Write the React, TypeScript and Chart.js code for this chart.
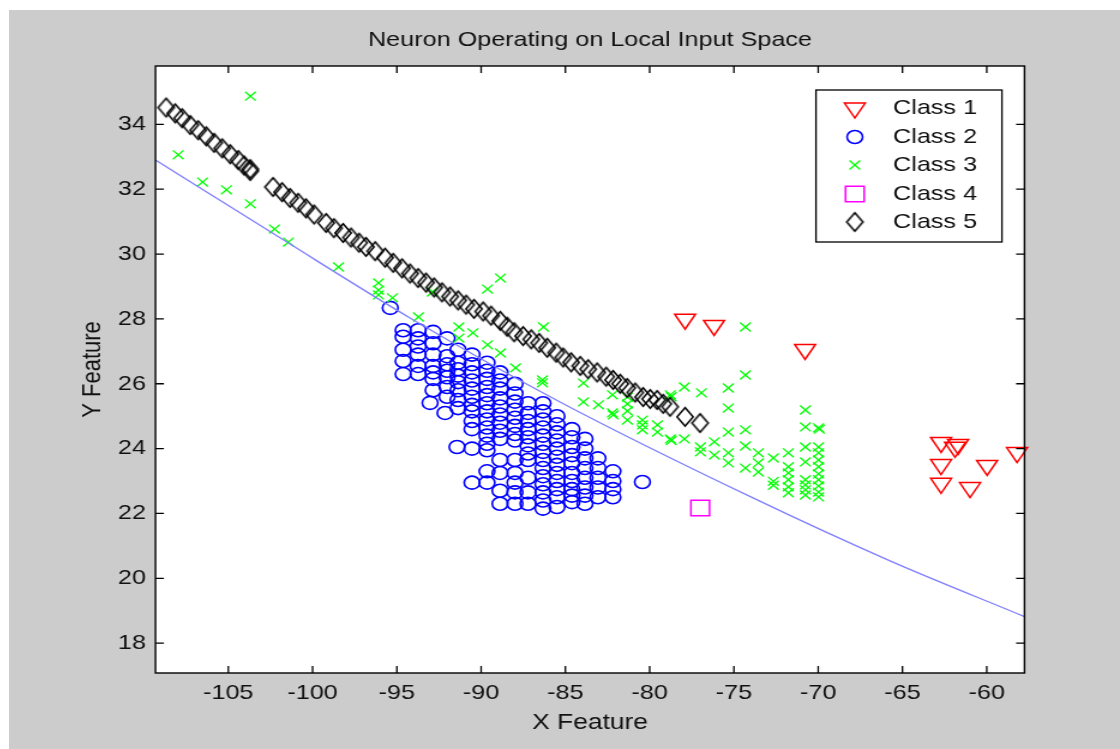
import React, { useEffect, useRef } from 'react';
import { Chart, registerables } from 'chart.js';

Chart.register(...registerables);

const TITLE = 'Neuron Operating on Local Input Space';
const X_TITLE = 'X Feature';
const Y_TITLE = 'Y Feature';
const X_RANGE = [-109.32, -57.76];
const Y_RANGE = [17.08, 35.8];
const X_TICKS = [-105, -100, -95, -90, -85, -80, -75, -70, -65, -60];
const Y_TICKS = [18, 20, 22, 24, 26, 28, 30, 32, 34];
const LEGEND_LABELS = ['Class 1', 'Class 2', 'Class 3', 'Class 4', 'Class 5'];

const class1Points = [
  [-77.9, 27.99], [-76.18, 27.8], [-70.78, 27.06], [-62.71, 24.19], [-61.88, 24.04],
  [-61.7, 24.13], [-62.71, 23.51], [-62.71, 22.93], [-59.98, 23.48], [-60.99, 22.8], [-58.2, 23.88],
];

const class2Points = [
  [-95.39, 28.34],
  [-94.63, 27.65], [-94.63, 27.45], [-94.63, 27.05], [-94.63, 26.7], [-94.63, 26.3],
  [-93.74, 27.65], [-93.74, 27.4], [-93.74, 27.15], [-93.74, 26.9], [-93.74, 26.55], [-93.74, 26.3],
  [-92.85, 27.6], [-92.85, 27.25], [-92.85, 26.9], [-92.85, 26.55], [-92.85, 26.35], [-92.85, 26.15], [-92.85, 25.8],
  [-93.03, 25.41],
  [-92.02, 27.4], [-92.02, 26.85], [-92.02, 26.6], [-92.02, 26.4], [-92.02, 26.2], [-92.02, 25.9], [-92.02, 25.6],
  [-92.14, 25.1],
  [-91.37, 27.05], [-91.37, 26.65], [-91.37, 26.45], [-91.37, 26.25], [-91.37, 26.05], [-91.37, 25.8], [-91.37, 25.5], [-91.37, 25.25], [-91.43, 24.05],
  [-90.54, 26.9], [-90.54, 26.6], [-90.54, 26.35], [-90.54, 26.1], [-90.54, 25.85], [-90.54, 25.6], [-90.54, 25.35], [-90.54, 25.15], [-90.54, 24.85], [-90.54, 24.6], [-90.54, 24.0], [-90.54, 22.95],
  [-89.65, 26.65], [-89.65, 26.4], [-89.65, 26.15], [-89.65, 25.9], [-89.65, 25.65], [-89.65, 25.4], [-89.65, 25.15], [-89.65, 24.9], [-89.65, 24.65], [-89.65, 24.4], [-89.65, 24.15], [-89.65, 23.95], [-89.65, 23.3], [-89.65, 22.95],
  [-88.88, 26.35], [-88.88, 26.1], [-88.88, 25.85], [-88.88, 25.55], [-88.88, 25.3], [-88.88, 25.05], [-88.88, 24.8], [-88.88, 24.55], [-88.88, 24.3], [-88.88, 23.65], [-88.88, 23.25], [-88.88, 22.7], [-88.88, 22.3],
  [-87.99, 26.0], [-87.99, 25.7], [-87.99, 25.45], [-87.99, 25.2], [-87.99, 24.95], [-87.99, 24.7], [-87.99, 24.45], [-87.99, 24.25], [-87.99, 23.65], [-87.99, 23.25], [-87.99, 22.95], [-87.99, 22.65], [-87.99, 22.3],
  [-87.22, 25.4], [-87.22, 25.1], [-87.22, 24.85], [-87.22, 24.6], [-87.22, 24.35], [-87.22, 24.1], [-87.22, 23.85], [-87.22, 23.65], [-87.22, 23.1], [-87.22, 22.65], [-87.22, 22.3],
  [-86.33, 25.4], [-86.33, 25.15], [-86.33, 24.9], [-86.33, 24.65], [-86.33, 24.4], [-86.33, 24.15], [-86.33, 23.9], [-86.33, 23.65], [-86.33, 23.4], [-86.33, 23.15], [-86.33, 22.9], [-86.33, 22.65], [-86.33, 22.4], [-86.33, 22.15],
  [-85.5, 25.0], [-85.5, 24.75], [-85.5, 24.5], [-85.5, 24.25], [-85.5, 24.0], [-85.5, 23.75], [-85.5, 23.5], [-85.5, 23.25], [-85.5, 23.0], [-85.5, 22.75], [-85.5, 22.5], [-85.5, 22.2],
  [-84.61, 24.6], [-84.61, 24.35], [-84.61, 24.05], [-84.61, 23.8], [-84.61, 23.55], [-84.61, 23.25], [-84.61, 23.0], [-84.61, 22.75], [-84.61, 22.55], [-84.61, 22.35],
  [-83.84, 24.3], [-83.84, 24.0], [-83.84, 23.7], [-83.84, 23.4], [-83.84, 23.1], [-83.84, 22.8], [-83.84, 22.55], [-83.84, 22.3],
  [-83.07, 23.7], [-83.07, 23.4], [-83.07, 23.1], [-83.07, 22.8], [-83.07, 22.5],
  [-82.18, 23.3], [-82.18, 23.0], [-82.18, 22.75], [-82.18, 22.5],
  [-80.43, 22.97],
];

const class3Points = [
  [-103.69, 34.87], [-107.97, 33.06], [-106.53, 32.22], [-105.11, 31.98], [-103.69, 31.55],
  [-102.26, 30.77], [-101.43, 30.37], [-98.46, 29.6], [-96.09, 29.11], [-96.09, 28.89],
  [-96.09, 28.74], [-95.26, 28.65], [-93.72, 28.06], [-92.89, 28.83], [-89.62, 28.92], [-88.85, 29.26],
  [-91.32, 27.75], [-90.49, 27.57], [-91.32, 27.41], [-89.62, 27.2], [-88.85, 26.95], [-87.96, 26.49],
  [-86.3, 27.75], [-86.36, 26.12], [-86.36, 26.03],
  [-83.93, 26.02], [-83.93, 25.44], [-83.04, 25.35], [-82.21, 25.66], [-82.21, 25.1], [-82.16, 25.04],
  [-81.32, 25.59], [-81.32, 25.38], [-81.32, 25.16], [-81.32, 24.88], [-80.43, 24.88], [-80.43, 24.73],
  [-80.43, 24.58], [-79.54, 24.73], [-79.54, 24.51], [-78.77, 25.66], [-78.72, 25.6], [-78.77, 24.3],
  [-78.72, 24.25], [-77.94, 25.9], [-77.94, 24.3], [-76.93, 25.72], [-76.99, 24.05], [-76.99, 23.9],
  [-76.16, 24.21], [-76.16, 23.8], [-75.33, 25.87], [-75.33, 25.25], [-75.33, 24.51], [-75.33, 23.87],
  [-75.33, 23.56], [-74.32, 27.75], [-74.32, 26.27], [-74.32, 24.58], [-74.32, 24.08], [-74.32, 23.4],
  [-73.55, 23.87], [-73.55, 23.56], [-73.55, 23.28], [-72.66, 23.71], [-72.66, 22.99], [-72.66, 22.87],
  [-71.77, 23.87], [-71.77, 23.44], [-71.77, 23.25], [-71.77, 23.04], [-71.77, 22.82], [-71.77, 22.64],
  [-70.76, 25.19], [-70.76, 24.67], [-70.76, 24.05], [-70.76, 23.59], [-70.76, 23.04], [-70.76, 22.88],
  [-70.76, 22.73], [-70.76, 22.57], [-69.98, 24.64], [-69.93, 24.6], [-69.98, 24.05], [-69.98, 23.87],
  [-69.98, 23.65], [-69.98, 23.44], [-69.98, 23.22], [-69.98, 23.04], [-69.98, 22.85], [-69.98, 22.66],
  [-69.98, 22.51],
];

const class4Points = [[-77.0, 22.17]];

const class5Points = [
  [-108.69, 34.52], [-108.15, 34.34], [-107.74, 34.19], [-107.26, 33.98], [-106.79, 33.82], [-106.31, 33.63],
  [-105.84, 33.43], [-105.36, 33.26], [-104.89, 33.08], [-104.41, 32.9], [-104.06, 32.73], [-103.7, 32.62],
  [-103.7, 32.56],
  [-102.35, 32.07], [-101.81, 31.91], [-101.34, 31.73], [-100.86, 31.58], [-100.39, 31.41], [-99.91, 31.22],
  [-99.2, 30.96], [-98.73, 30.8], [-98.19, 30.65], [-97.72, 30.51], [-97.24, 30.35], [-96.83, 30.22],
  [-96.29, 30.09], [-95.7, 29.89], [-95.22, 29.73], [-94.69, 29.56], [-94.22, 29.4], [-93.74, 29.26],
  [-93.27, 29.12], [-92.79, 28.97], [-92.32, 28.82], [-91.84, 28.69], [-91.37, 28.57], [-90.89, 28.44],
  [-90.42, 28.31], [-89.88, 28.23], [-89.41, 28.1], [-88.87, 27.94], [-88.46, 27.76], [-88.04, 27.59],
  [-87.51, 27.47], [-87.03, 27.37], [-86.56, 27.26], [-86.08, 27.11], [-85.55, 26.96], [-85.13, 26.81],
  [-84.66, 26.66], [-84.12, 26.55], [-83.65, 26.45], [-83.12, 26.35], [-82.58, 26.22], [-82.17, 26.12],
  [-81.75, 26.0], [-81.34, 25.87], [-80.86, 25.73], [-80.39, 25.59], [-79.97, 25.53], [-79.56, 25.5],
  [-79.2, 25.38], [-78.79, 25.29], [-77.9, 24.98], [-77.01, 24.79],
];

const boundaryX = [-109.32, -101.93, -94.22, -85.32, -73.87, -65.74, -57.76];
const boundaryY = [32.9, 30.5, 28.03, 25.44, 22.48, 20.54, 18.82];

const FONT = '"Liberation Sans", Arial, Helvetica, sans-serif';
const TEXT = '#111111';
const CW = 926;
const CH = 739;
const STRETCH = 1111 / CW;

const toXY = (pts: number[][]) => pts.map(([x, y]) => ({ x, y }));

function makeDiamond(w: number, h: number, lw: number, color: string) {
  const c = document.createElement('canvas');
  c.width = Math.ceil(w + lw * 2 + 2);
  c.height = Math.ceil(h + lw * 2 + 2);
  const g = c.getContext('2d')!;
  const cx = c.width / 2;
  const cy = c.height / 2;
  g.strokeStyle = color;
  g.lineWidth = lw;
  g.beginPath();
  g.moveTo(cx, cy - h / 2);
  g.lineTo(cx + w / 2, cy);
  g.lineTo(cx, cy + h / 2);
  g.lineTo(cx - w / 2, cy);
  g.closePath();
  g.stroke();
  return c;
}

function drawMarker(ctx: CanvasRenderingContext2D, kind: number, x: number, y: number, diamond: HTMLCanvasElement) {
  ctx.save();
  ctx.beginPath();
  if (kind === 0) {
    const r = 10;
    ctx.strokeStyle = '#ff0000';
    ctx.lineWidth = 1.5;
    ctx.moveTo(x, y + r);
    ctx.lineTo(x - 0.866 * r, y - 0.5 * r);
    ctx.lineTo(x + 0.866 * r, y - 0.5 * r);
    ctx.closePath();
    ctx.stroke();
  } else if (kind === 1) {
    ctx.strokeStyle = '#0000ff';
    ctx.lineWidth = 1.6;
    ctx.arc(x, y, 6.5, 0, Math.PI * 2);
    ctx.stroke();
  } else if (kind === 2) {
    const d = 6.3 * Math.SQRT1_2;
    ctx.strokeStyle = '#00ff00';
    ctx.lineWidth = 1.3;
    ctx.moveTo(x - d, y - d);
    ctx.lineTo(x + d, y + d);
    ctx.moveTo(x + d, y - d);
    ctx.lineTo(x - d, y + d);
    ctx.stroke();
  } else if (kind === 3) {
    const d = 11 * Math.SQRT1_2;
    ctx.strokeStyle = '#ff00ff';
    ctx.lineWidth = 1.5;
    ctx.rect(x - d, y - d, 2 * d, 2 * d);
    ctx.stroke();
  } else {
    ctx.drawImage(diamond, x - diamond.width / 2, y - diamond.height / 2);
  }
  ctx.restore();
}

export default function App() {
  const ref = useRef<HTMLCanvasElement>(null);

  useEffect(() => {
    const canvas = ref.current;
    if (!canvas) return;
    const diamond = makeDiamond(13.5, 18.5, 1.5, '#000000');

    const framePlugin = {
      id: 'matlabFrame',
      beforeDraw(chart: any) {
        const { ctx, chartArea: a, width, height } = chart;
        ctx.save();
        ctx.fillStyle = '#cccccc';
        ctx.fillRect(0, 0, width, height);
        ctx.fillStyle = '#ffffff';
        ctx.fillRect(a.left, a.top, a.right - a.left, a.bottom - a.top);
        ctx.restore();
      },
      afterDraw(chart: any) {
        const { ctx, chartArea: a } = chart;
        const xs = chart.scales.x;
        const ys = chart.scales.y;
        ctx.save();
        ctx.strokeStyle = '#000000';
        ctx.lineWidth = 1.4;
        ctx.strokeRect(a.left, a.top, a.right - a.left, a.bottom - a.top);
        ctx.lineWidth = 1.3;
        ctx.beginPath();
        X_TICKS.forEach((v) => {
          const px = xs.getPixelForValue(v);
          ctx.moveTo(px, a.bottom);
          ctx.lineTo(px, a.bottom - 7);
          ctx.moveTo(px, a.top);
          ctx.lineTo(px, a.top + 7);
        });
        Y_TICKS.forEach((v) => {
          const py = ys.getPixelForValue(v);
          ctx.moveTo(a.left, py);
          ctx.lineTo(a.left + 7, py);
          ctx.moveTo(a.right, py);
          ctx.lineTo(a.right - 7, py);
        });
        ctx.stroke();

        ctx.fillStyle = TEXT;
        ctx.font = `21px ${FONT}`;
        ctx.textAlign = 'center';
        ctx.textBaseline = 'middle';
        ctx.fillText(TITLE, (a.left + a.right) / 2, 30);

        const lx = 672.6;
        const ly = 80;
        const lw = 155;
        const lh = 152;
        ctx.fillStyle = '#ffffff';
        ctx.fillRect(lx, ly, lw, lh);
        ctx.strokeStyle = '#000000';
        ctx.lineWidth = 1.3;
        ctx.strokeRect(lx, ly, lw, lh);
        const rows = [98, 127, 155, 184, 212];
        LEGEND_LABELS.forEach((label, i) => {
          drawMarker(ctx, i, 705, rows[i], diamond);
          ctx.fillStyle = TEXT;
          ctx.font = `21px ${FONT}`;
          ctx.textAlign = 'left';
          ctx.textBaseline = 'middle';
          ctx.fillText(label, 736.8, rows[i]);
        });
        ctx.restore();
      },
    };

    const chart = new Chart(canvas, {
      type: 'scatter',
      data: {
        datasets: [
          {
            label: 'Boundary',
            type: 'line',
            data: boundaryX.map((x, i) => ({ x, y: boundaryY[i] })),
            borderColor: '#8080ff',
            borderWidth: 1.3,
            pointRadius: 0,
            showLine: true,
            fill: false,
            cubicInterpolationMode: 'monotone',
            order: 0,
          } as any,
          {
            label: LEGEND_LABELS[4],
            data: toXY(class5Points),
            pointStyle: diamond,
            pointRadius: 9,
            clip: false,
            order: 1,
          } as any,
          {
            label: LEGEND_LABELS[3],
            data: toXY(class4Points),
            pointStyle: 'rect',
            pointRadius: 11,
            borderColor: '#ff00ff',
            backgroundColor: 'rgba(0,0,0,0)',
            borderWidth: 1.5,
            clip: false,
            order: 2,
          },
          {
            label: LEGEND_LABELS[2],
            data: toXY(class3Points),
            pointStyle: 'crossRot',
            pointRadius: 6.3,
            borderColor: '#00ff00',
            backgroundColor: 'rgba(0,0,0,0)',
            borderWidth: 1.3,
            clip: false,
            order: 3,
          },
          {
            label: LEGEND_LABELS[1],
            data: toXY(class2Points),
            pointStyle: 'circle',
            pointRadius: 6.5,
            borderColor: '#0000ff',
            backgroundColor: 'rgba(0,0,0,0)',
            borderWidth: 1.6,
            clip: false,
            order: 4,
          },
          {
            label: LEGEND_LABELS[0],
            data: toXY(class1Points),
            pointStyle: 'triangle',
            rotation: 180,
            pointRadius: 10,
            borderColor: '#ff0000',
            backgroundColor: 'rgba(0,0,0,0)',
            borderWidth: 1.5,
            clip: false,
            order: 5,
          } as any,
        ],
      },
      options: {
        animation: false,
        responsive: false,
        devicePixelRatio: 1,
        events: [],
        layout: { padding: { top: 56, right: CW - 846.4, left: 0, bottom: 0 } },
        plugins: {
          legend: { display: false },
          title: { display: false },
          tooltip: { enabled: false },
        },
        scales: {
          x: {
            type: 'linear',
            min: X_RANGE[0],
            max: X_RANGE[1],
            grid: { display: false, drawTicks: false },
            border: { display: false },
            afterBuildTicks: (s: any) => {
              s.ticks = X_TICKS.map((value) => ({ value }));
            },
            afterFit: (s: any) => {
              s.height = 76;
            },
            ticks: {
              color: TEXT,
              font: { family: FONT, size: 21 },
              padding: 8,
              maxRotation: 0,
              autoSkip: false,
              callback: (v: any) => String(v),
            },
            title: {
              display: true,
              text: X_TITLE,
              color: TEXT,
              font: { family: FONT, size: 22 },
              padding: { top: 0, bottom: 13 },
            },
          },
          y: {
            type: 'linear',
            min: Y_RANGE[0],
            max: Y_RANGE[1],
            grid: { display: false, drawTicks: false },
            border: { display: false },
            afterBuildTicks: (s: any) => {
              s.ticks = Y_TICKS.map((value) => ({ value }));
            },
            afterFit: (s: any) => {
              s.width = 122.1;
            },
            ticks: {
              color: TEXT,
              font: { family: FONT, size: 21 },
              padding: 8,
              autoSkip: false,
              callback: (v: any) => String(v),
            },
            title: {
              display: true,
              text: Y_TITLE,
              color: TEXT,
              font: { family: FONT, size: 22 },
              padding: { top: 56.8, bottom: 0 },
            },
          },
        },
      },
      plugins: [framePlugin],
    } as any);

    return () => chart.destroy();
  }, []);

  return (
    <div
      style={{
        position: 'absolute',
        left: 9,
        top: 10,
        width: 1111,
        height: 739,
        background: '#cccccc',
        overflow: 'hidden',
      }}
    >
      <canvas
        ref={ref}
        width={CW}
        height={CH}
        style={{
          display: 'block',
          width: CW,
          height: CH,
          transform: `scaleX(${STRETCH})`,
          transformOrigin: '0 0',
        }}
      />
    </div>
  );
}
